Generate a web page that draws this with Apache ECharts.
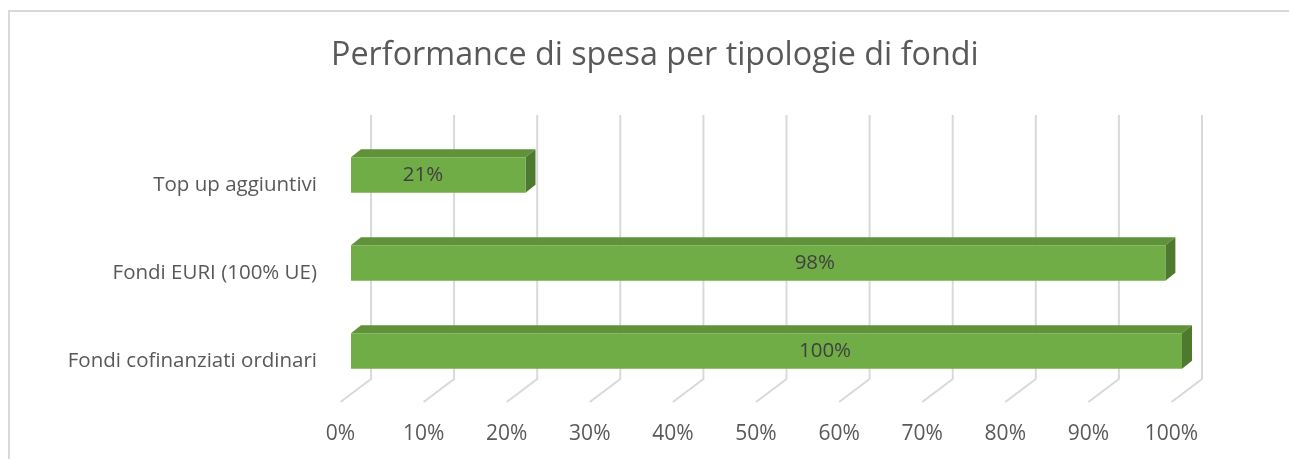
<!DOCTYPE html>
<html>
<head>
<meta charset="utf-8">
<script src="https://cdn.jsdelivr.net/npm/echarts@6/dist/echarts.min.js"></script>
<style>
html,body{margin:0;padding:0;background:#fff;}
#chart{width:1289px;height:459px;}
</style>
</head>
<body>
<div id="chart"></div>
<script>
const titleText = 'Performance di spesa per tipologie di fondi';
const categories = ['Fondi cofinanziati ordinari', 'Fondi EURI (100% UE)', 'Top up aggiuntivi'];
const values = [100, 98, 21];
const tickValues = [0, 10, 20, 30, 40, 50, 60, 70, 80, 90, 100];

const FONT = 'Open Sans';
const chart = echarts.init(document.getElementById('chart'), null, {renderer: 'canvas'});

const DX = 10, DY = -8;

const option = {
  backgroundColor: '#ffffff',
  animation: false,
  title: {
    text: titleText,
    left: 331,
    top: 40,
    padding: 0,
    textStyle: {fontFamily: FONT, fontSize: 32.3, fontWeight: 'normal', color: '#595959'}
  },
  graphic: [{
    type: 'rect',
    shape: {x: 9, y: 11, width: 1300, height: 470},
    style: {fill: 'none', stroke: '#d9d9d9', lineWidth: 2},
    silent: true, z: -10
  }],
  grid: {left: 351, top: 131, width: 831, height: 264, containLabel: false},
  xAxis: {
    type: 'value', min: 0, max: 100, interval: 10,
    axisLine: {show: false}, axisTick: {show: false}, splitLine: {show: false},
    axisLabel: {
      formatter: v => v + '%',
      fontFamily: FONT, fontSize: 21, color: '#595959',
      margin: 29, padding: [0, 21, 0, 0]
    }
  },
  yAxis: {
    type: 'category', data: categories,
    axisLine: {show: false}, axisTick: {show: false}, splitLine: {show: false},
    axisLabel: {
      fontFamily: FONT, fontSize: 20.5, color: '#595959',
      margin: 34, verticalAlign: 'top', lineHeight: 20
    }
  },
  series: [
    {
      type: 'custom',
      z: 1,
      silent: true,
      data: tickValues.map(v => [v, 0]),
      renderItem: function (params, api) {
        const cs = params.coordSys;
        const x = api.coord([api.value(0), 0])[0];
        const xb = x + 20;
        const xf = x - 10.5;
        const yTop = cs.y - 16;
        const yBot = cs.y + cs.height - 16;
        const yFront = cs.y + cs.height + 7;
        return {
          type: 'polyline',
          shape: {points: [[xb, yTop], [xb, yBot], [xf, yFront]]},
          style: {stroke: '#d9d9d9', lineWidth: 2, fill: null}
        };
      }
    },
    {
      type: 'custom',
      z: 2,
      data: values.map((v, i) => [v, i]),
      renderItem: function (params, api) {
        const val = api.value(0);
        const cat = api.value(1);
        const p0 = api.coord([0, cat]);
        const p1 = api.coord([val, cat]);
        const h = api.size([0, 1])[1] * 0.405;
        const x0 = p0[0], x1 = p1[0];
        const top = p0[1] - h / 2, bot = p0[1] + h / 2;
        // Excel 3D label placement (projected label anchor)
        const lx = api.coord([val * 0.6124 - 4.2, cat])[0];
        return {
          type: 'group',
          children: [
            {
              type: 'polygon',
              shape: {points: [[x0, top], [x0 + DX, top + DY], [x1 + DX, top + DY], [x1, top]]},
              style: {fill: '#5f9239'}
            },
            {
              type: 'polygon',
              shape: {points: [[x1, top], [x1 + DX, top + DY], [x1 + DX, bot + DY], [x1, bot]]},
              style: {fill: '#4d7a2e'}
            },
            {
              type: 'rect',
              shape: {x: x0, y: top, width: x1 - x0, height: bot - top},
              style: {fill: '#70ad47'}
            },
            {
              type: 'text',
              style: {
                x: lx, y: p0[1],
                text: val + '%',
                align: 'center', verticalAlign: 'middle',
                fontFamily: FONT, fontSize: 20.5, fill: '#404040'
              }
            }
          ]
        };
      }
    }
  ]
};
chart.setOption(option);
</script>
</body>
</html>
